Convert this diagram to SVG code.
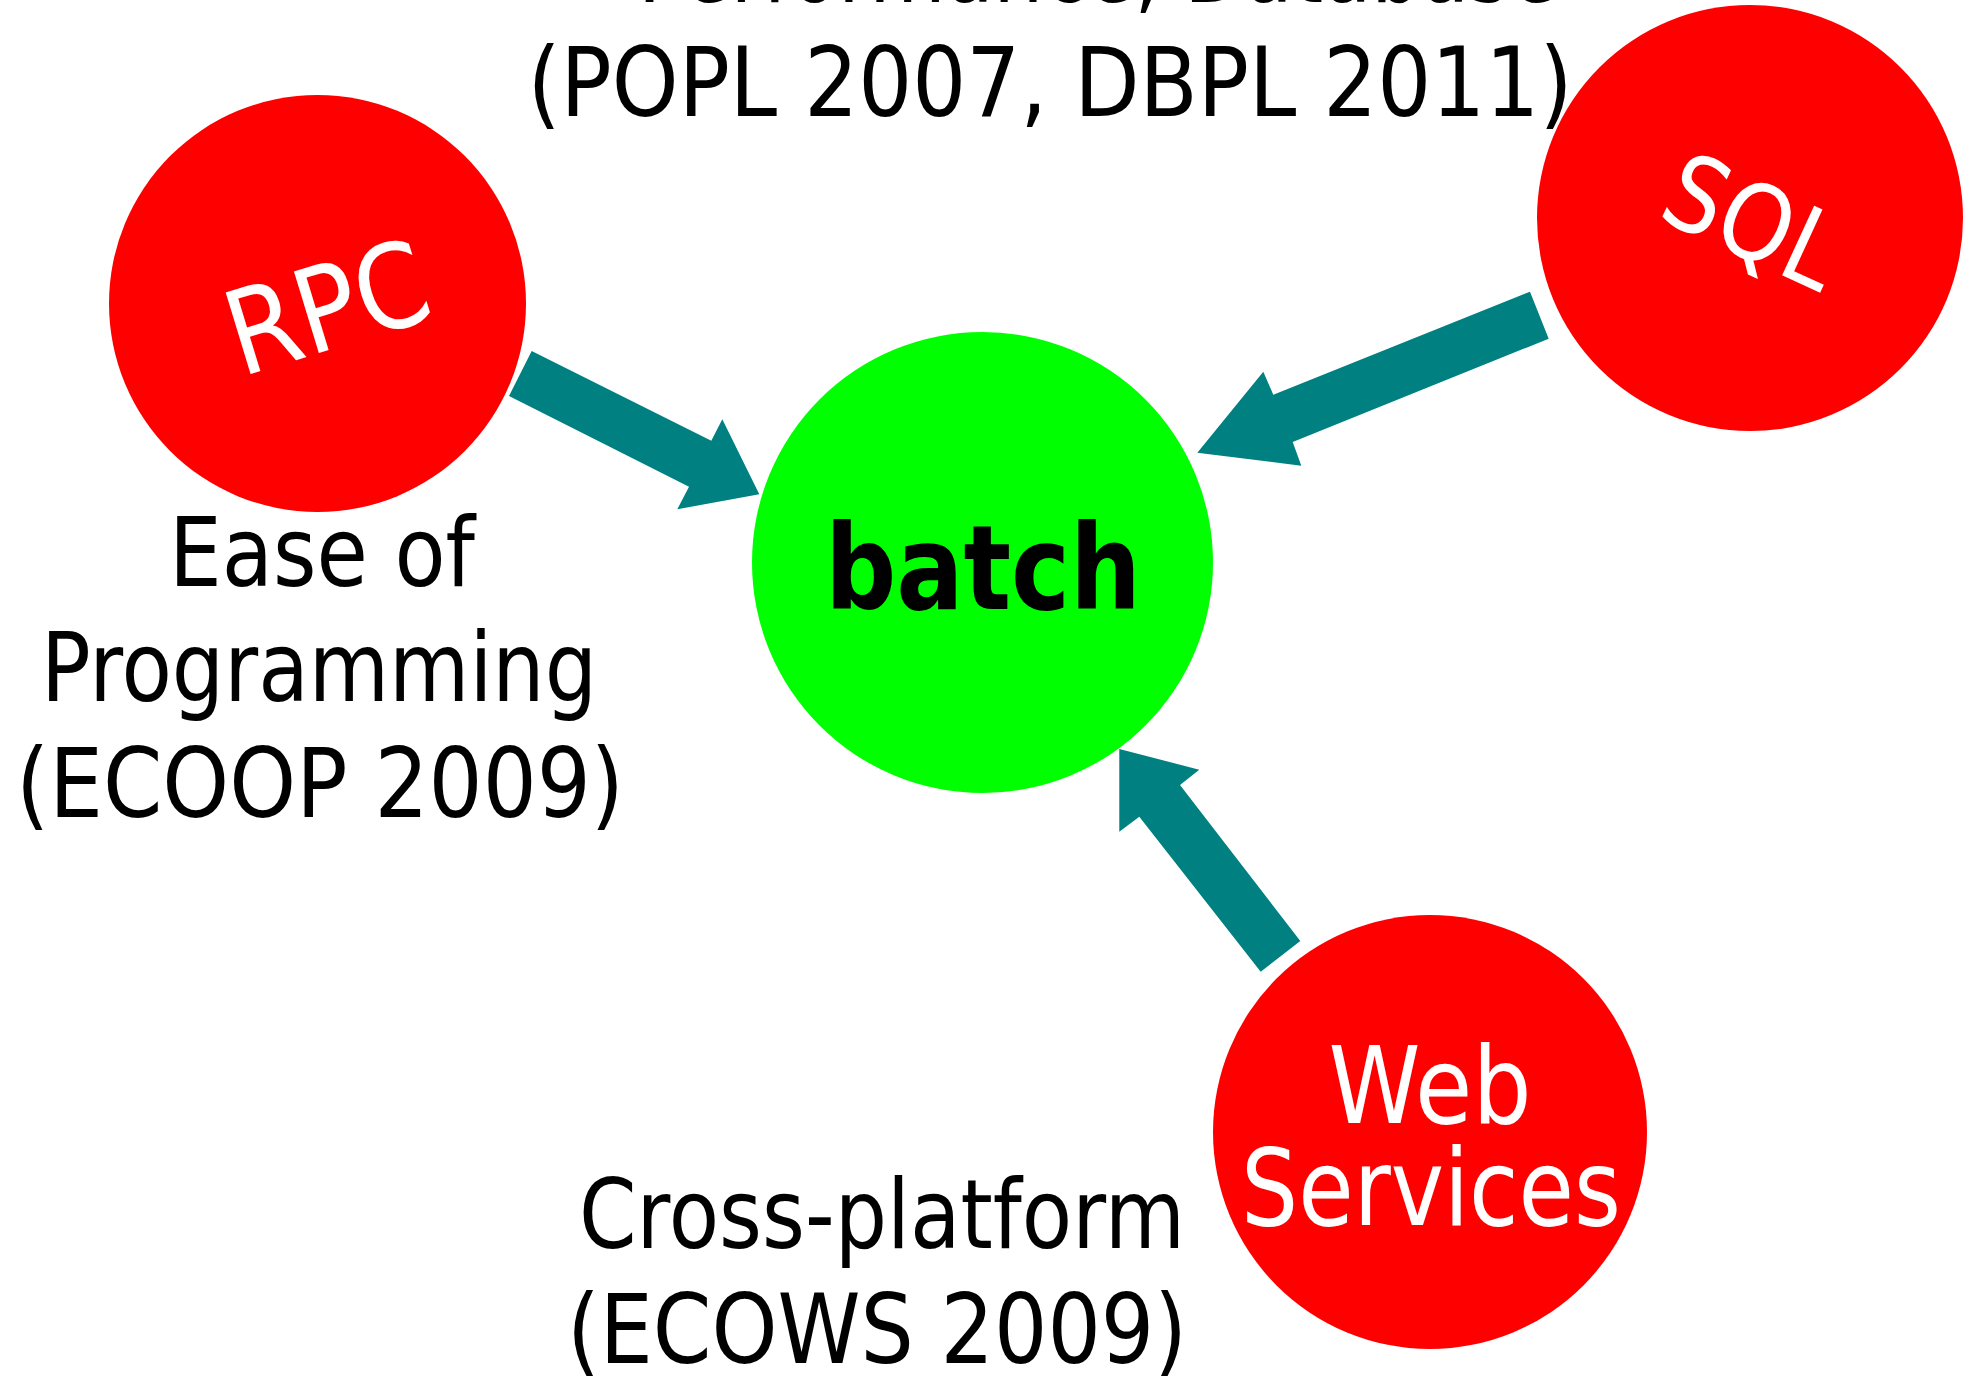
<svg xmlns="http://www.w3.org/2000/svg" width="1963" height="1383" viewBox="0 0 1963 1383">
<style>
.lbl{font-family:"DejaVu Sans","Verdana",sans-serif;font-size:96px;fill:#000;text-anchor:middle}
.red{fill:#FF0000}
.wt{font-family:"DejaVu Sans","Verdana",sans-serif;fill:#FFFFFF;text-anchor:middle}
.arrow{fill:#008080}
</style>
<rect width="1963" height="1383" fill="#FFFFFF"/>
<g id="label-sql">
<text class="lbl" x="1098" y="2" textLength="920" lengthAdjust="spacingAndGlyphs">Performance, Database</text>
<text class="lbl" x="1050" y="116" textLength="1045" lengthAdjust="spacingAndGlyphs">(POPL 2007, DBPL 2011)</text>
</g>
<g id="label-rpc">
<text class="lbl" x="322" y="586" textLength="306" lengthAdjust="spacingAndGlyphs">Ease of</text>
<text class="lbl" x="319" y="701" textLength="556" lengthAdjust="spacingAndGlyphs">Programming</text>
<text class="lbl" x="320" y="817" textLength="608" lengthAdjust="spacingAndGlyphs">(ECOOP 2009)</text>
</g>
<g id="label-ws">
<text class="lbl" x="882" y="1248" textLength="606" lengthAdjust="spacingAndGlyphs">Cross-platform</text>
<text class="lbl" x="877" y="1363" textLength="620" lengthAdjust="spacingAndGlyphs">(ECOWS 2009)</text>
</g>
<g id="connectors">
<polygon class="arrow" points="531.7,351 509,396 689,486.7 677.3,509.3 759.3,494.3 722.3,419.3 711.3,440.7"/>
<polygon class="arrow" points="1530,291.7 1548.7,338.7 1292.7,442 1301.3,465.7 1197.3,452.7 1263.3,371.7 1273.3,394.7"/>
<polygon class="arrow" points="1300.3,941 1260.7,971.7 1139.3,816.7 1119.3,831.7 1119.3,749 1199.3,769.7 1180,785"/>
</g>
<g id="node-rpc">
<circle class="red" cx="317.5" cy="303.5" r="208.5"/>
<text class="wt" x="339" y="347" font-size="117" textLength="205" lengthAdjust="spacingAndGlyphs" transform="rotate(-17 339 347)">RPC</text>
</g>
<g id="node-sql">
<circle class="red" cx="1750" cy="218" r="213"/>
<text class="wt" x="1738" y="255" font-size="105" textLength="182" lengthAdjust="spacingAndGlyphs" transform="rotate(24.7 1738 255)">SQL</text>
</g>
<g id="node-batch">
<circle cx="982.5" cy="562.5" r="230.5" fill="#00FF00"/>
<text x="983" y="609" font-family="DejaVu Sans, Verdana, sans-serif" font-weight="bold" font-size="117" text-anchor="middle" textLength="316" lengthAdjust="spacingAndGlyphs" fill="#000">batch</text>
</g>
<g id="node-ws">
<circle class="red" cx="1430" cy="1132" r="217"/>
<text class="wt" x="1430" y="1123" font-size="107" textLength="203" lengthAdjust="spacingAndGlyphs">Web</text>
<text class="wt" x="1431" y="1225" font-size="107" textLength="380" lengthAdjust="spacingAndGlyphs">Services</text>
</g>
</svg>
